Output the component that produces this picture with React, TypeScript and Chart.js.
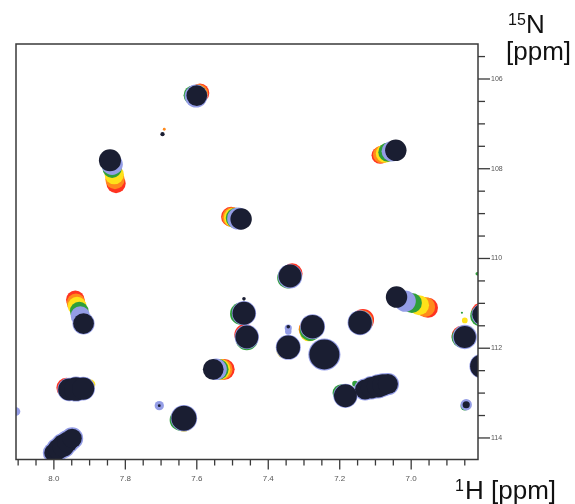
import React, { useEffect, useRef } from 'react';
import { Chart, registerables } from 'chart.js';

Chart.register(...registerables);

// [1H ppm, 15N ppm, half linewidth in 1H ppm]
type Peak = [number, number, number];

const xMajorTicks = [8.0, 7.8, 7.6, 7.4, 7.2, 7.0];
const yMajorTicks = [106, 108, 110, 112, 114];
const xMin = 6.813;
const xMax = 8.106;
const yMin = 105.22;
const yMax = 114.48;

const xTitleSup = '1';
const xTitleMain = 'H [ppm]';
const yTitleSup = '15';
const yTitleMain = 'N';
const yTitleUnit = '[ppm]';

// titration points, first (red) to last (black)
const redPeaks: Peak[] = [
  [7.591, 106.31, 0.026],
  [7.826, 108.33, 0.027],
  [7.087, 107.70, 0.024],
  [7.504, 109.07, 0.028],
  [7.333, 110.34, 0.029],
  [6.953, 111.10, 0.028],
  [6.804, 111.22, 0.029],
  [6.858, 111.73, 0.029],
  [6.844, 113.24, 0.011],
  [7.523, 112.47, 0.029],
  [7.465, 111.70, 0.030],
  [7.135, 111.37, 0.031],
  [7.940, 110.92, 0.026],
  [7.965, 112.88, 0.028],
];

const orangePeaks: Peak[] = [
  [7.594, 106.32, 0.026],
  [7.829, 108.24, 0.027],
  [7.082, 107.68, 0.025],
  [7.501, 109.08, 0.028],
  [6.961, 111.08, 0.028],
  [7.529, 112.47, 0.029],
  [7.289, 111.58, 0.026],
  [7.138, 111.40, 0.031],
  [7.938, 110.99, 0.026],
  [7.691, 107.12, 0.004],
];

const yellowPeaks: Peak[] = [
  [7.599, 106.34, 0.026],
  [7.831, 108.13, 0.027],
  [7.073, 107.66, 0.026],
  [7.496, 109.09, 0.028],
  [6.978, 111.04, 0.028],
  [6.850, 111.38, 0.008],
  [7.535, 112.47, 0.029],
  [7.286, 111.64, 0.026],
  [7.350, 112.02, 0.028],
  [7.935, 111.06, 0.026],
  [7.898, 112.81, 0.014],
  [7.636, 113.62, 0.030],
];

const greenPeaks: Peak[] = [
  [7.610, 106.36, 0.027],
  [7.837, 107.99, 0.027],
  [7.065, 107.63, 0.027],
  [7.490, 109.10, 0.029],
  [7.345, 110.43, 0.030],
  [6.998, 110.99, 0.028],
  [6.806, 111.28, 0.029],
  [6.858, 111.76, 0.029],
  [6.815, 110.34, 0.005],
  [6.858, 111.21, 0.003],
  [6.850, 113.29, 0.012],
  [7.476, 111.23, 0.031],
  [7.460, 111.80, 0.031],
  [7.540, 112.47, 0.029],
  [7.282, 111.60, 0.030],
  [7.140, 111.42, 0.031],
  [7.195, 113.00, 0.025],
  [7.157, 112.79, 0.008],
  [7.929, 111.17, 0.026],
  [7.646, 113.60, 0.030],
];

const bluePeaks: Peak[] = [
  [7.602, 106.38, 0.032],
  [7.837, 107.90, 0.030],
  [7.054, 107.61, 0.029],
  [7.484, 109.11, 0.031],
  [7.339, 110.40, 0.034],
  [7.017, 110.95, 0.030],
  [6.800, 111.25, 0.031],
  [6.850, 111.75, 0.034],
  [6.802, 112.40, 0.035],
  [6.846, 113.26, 0.016],
  [7.468, 111.22, 0.034],
  [7.460, 111.75, 0.034],
  [7.546, 112.47, 0.030],
  [7.344, 111.98, 0.035],
  [7.344, 111.55, 0.010],
  [7.344, 111.63, 0.009],
  [7.276, 111.52, 0.035],
  [7.243, 112.14, 0.045],
  [7.143, 111.43, 0.035],
  [7.184, 113.06, 0.034],
  [7.129, 112.92, 0.031],
  [7.111, 112.88, 0.033],
  [7.093, 112.85, 0.034],
  [7.079, 112.82, 0.033],
  [7.065, 112.80, 0.031],
  [7.926, 111.28, 0.027],
  [7.917, 111.45, 0.031],
  [7.957, 112.92, 0.033],
  [7.938, 112.91, 0.035],
  [7.918, 112.90, 0.033],
  [7.705, 113.28, 0.013],
  [7.636, 113.56, 0.037],
  [8.002, 114.33, 0.029],
  [7.988, 114.25, 0.033],
  [7.974, 114.17, 0.035],
  [7.962, 114.09, 0.033],
  [7.949, 114.01, 0.031],
  [8.106, 113.41, 0.012],
];

const blackPeaks: Peak[] = [
  [7.600, 106.37, 0.029],
  [7.696, 107.23, 0.006],
  [7.843, 107.81, 0.031],
  [7.043, 107.59, 0.030],
  [7.476, 109.12, 0.030],
  [7.339, 110.39, 0.032],
  [7.041, 110.86, 0.030],
  [6.800, 111.25, 0.029],
  [6.850, 111.75, 0.031],
  [6.802, 112.40, 0.033],
  [6.846, 113.26, 0.010],
  [7.468, 111.22, 0.032],
  [7.468, 110.90, 0.005],
  [7.460, 111.75, 0.032],
  [7.554, 112.47, 0.029],
  [7.344, 111.98, 0.033],
  [7.344, 111.52, 0.005],
  [7.276, 111.52, 0.033],
  [7.243, 112.14, 0.042],
  [7.143, 111.43, 0.033],
  [7.184, 113.06, 0.032],
  [7.129, 112.92, 0.028],
  [7.111, 112.88, 0.030],
  [7.093, 112.85, 0.031],
  [7.079, 112.82, 0.030],
  [7.065, 112.80, 0.028],
  [7.917, 111.45, 0.029],
  [7.957, 112.92, 0.031],
  [7.938, 112.91, 0.033],
  [7.918, 112.90, 0.031],
  [7.705, 113.28, 0.004],
  [7.636, 113.56, 0.035],
  [8.002, 114.33, 0.025],
  [7.988, 114.25, 0.029],
  [7.974, 114.17, 0.031],
  [7.962, 114.09, 0.029],
  [7.949, 114.01, 0.027],
];

// drawn back (first in titration) to front (last)
const levels = [
  { label: 'point 6', peaks: blackPeaks, fill: '#1a1e32', edge: '#1a1e32' },
  { label: 'point 5', peaks: bluePeaks, fill: '#949de6', edge: '#949de6' },
  { label: 'point 4', peaks: greenPeaks, fill: '#2f9f3a', edge: '#2f9f3a' },
  { label: 'point 3', peaks: yellowPeaks, fill: '#ffe21a', edge: '#ffe21a' },
  { label: 'point 2', peaks: orangePeaks, fill: '#ff8a1c', edge: '#ff8a1c' },
  { label: 'point 1', peaks: redPeaks, fill: '#ff3320', edge: '#ff3320' },
];

const FONT = '"Liberation Sans", Arial, sans-serif';

const decorPlugin = {
  id: 'nmrDecor',
  afterDatasetsDraw(chart: any) {
    const { ctx, chartArea: a, scales } = chart;
    const xs = scales.x;
    const ys = scales.y;
    ctx.save();
    ctx.strokeStyle = '#3a3a3a';
    ctx.lineWidth = 1.5;
    ctx.strokeRect(a.left, a.top, a.right - a.left, a.bottom - a.top);
    // x tick marks every 0.05 ppm
    ctx.lineWidth = 1.3;
    for (let i = 0; ; i++) {
      const v = Math.round((8.1 - i * 0.05) * 100) / 100;
      if (v < xMin) break;
      const px = xs.getPixelForValue(v);
      const major = xMajorTicks.some((t) => Math.abs(t - v) < 1e-6);
      ctx.beginPath();
      ctx.moveTo(px, a.bottom);
      ctx.lineTo(px, a.bottom + (major ? 10 : 6));
      ctx.stroke();
    }
    // y tick marks every 0.5 ppm
    for (let i = 0; ; i++) {
      const v = 105.5 + i * 0.5;
      if (v > yMax) break;
      const py = ys.getPixelForValue(v);
      const major = yMajorTicks.some((t) => Math.abs(t - v) < 1e-6);
      ctx.beginPath();
      ctx.moveTo(a.right, py);
      ctx.lineTo(a.right + (major ? 12 : 7), py);
      ctx.stroke();
    }
    // axis titles
    ctx.fillStyle = '#111';
    ctx.textBaseline = 'alphabetic';
    ctx.textAlign = 'left';
    ctx.font = `16px ${FONT}`;
    ctx.fillText(yTitleSup, 508, 25);
    ctx.fillText(xTitleSup, 455, 491);
    ctx.font = `26px ${FONT}`;
    ctx.fillText(yTitleMain, 526, 32.5);
    ctx.fillText(yTitleUnit, 506, 59.5);
    ctx.fillText(xTitleMain, 465, 498.5);
    ctx.restore();
  },
};

function radiusFor(ctx: any) {
  const raw = ctx.raw;
  if (!raw || raw.w === undefined) return 0;
  const s = ctx.chart.scales.x;
  return Math.abs(s.getPixelForValue(raw.x) - s.getPixelForValue(raw.x + raw.w));
}

export default function App() {
  const ref = useRef<HTMLCanvasElement | null>(null);
  useEffect(() => {
    if (!ref.current) return;
    const chart = new Chart(ref.current, {
      type: 'scatter',
      data: {
        datasets: levels.map((l) => ({
          label: l.label,
          data: l.peaks.map(([x, y, w]) => ({ x, y, w })) as any,
          backgroundColor: l.fill,
          borderColor: l.edge,
          borderWidth: 0,
          pointRadius: radiusFor as any,
          pointHoverRadius: radiusFor as any,
          pointStyle: 'circle',
          clip: 0 as any,
        })),
      },
      plugins: [decorPlugin],
      options: {
        animation: false,
        responsive: true,
        maintainAspectRatio: false,
        events: [],
        layout: { padding: { left: 16, top: 44, right: 0, bottom: 0 } },
        plugins: { legend: { display: false }, tooltip: { enabled: false }, title: { display: false } },
        scales: {
          x: {
            type: 'linear',
            position: 'bottom',
            reverse: true,
            min: xMin,
            max: xMax,
            grid: { display: false },
            border: { display: false },
            afterBuildTicks: (s: any) => {
              s.ticks = xMajorTicks.map((v) => ({ value: v }));
            },
            afterFit: (s: any) => {
              s.height = 44.5;
            },
            ticks: {
              autoSkip: false,
              maxRotation: 0,
              padding: 6,
              color: '#555',
              font: { size: 8, family: FONT },
              callback: (v: any) => Number(v).toFixed(1),
            },
          },
          y: {
            type: 'linear',
            position: 'right',
            reverse: true,
            min: yMin,
            max: yMax,
            grid: { display: false },
            border: { display: false },
            afterBuildTicks: (s: any) => {
              s.ticks = yMajorTicks.map((v) => ({ value: v }));
            },
            afterFit: (s: any) => {
              s.width = 97;
            },
            ticks: {
              autoSkip: false,
              padding: 5,
              color: '#555',
              font: { size: 7, family: FONT },
              callback: (v: any) => String(v),
            },
          },
        },
      },
    });
    return () => chart.destroy();
  }, []);
  return (
    <div style={{ position: 'fixed', left: 0, top: 0, width: 575, height: 504, background: '#fff' }}>
      <canvas ref={ref} />
    </div>
  );
}
